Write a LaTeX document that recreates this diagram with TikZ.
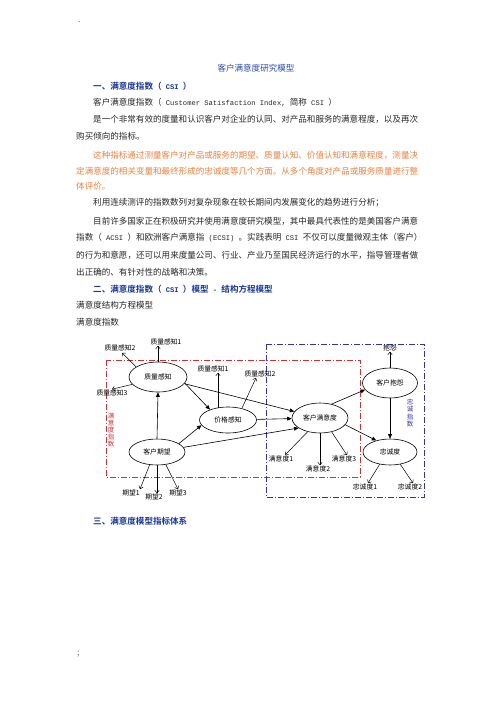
\documentclass[tikz,border=0pt]{standalone}
\usepackage{fontspec}
\usetikzlibrary{shapes.geometric,arrows.meta,calc}
\newfontfamily\cjk{Noto Sans CJK SC}[BoldFont={Noto Sans CJK SC Bold}]
\newfontfamily\lmono[Scale=0.8333]{Liberation Mono}
\newcommand\lm[1]{{\lmono#1}}
\definecolor{titleblue}{RGB}{45,75,165}
\definecolor{headblue}{RGB}{25,55,150}
\definecolor{orangetxt}{RGB}{238,128,60}
\definecolor{bodytxt}{RGB}{40,40,40}
\definecolor{redbox}{RGB}{205,50,50}
\definecolor{bluebox}{RGB}{50,50,175}
\begin{document}
\begin{tikzpicture}[x=1pt,y=-1pt,
 body/.style={anchor=west,inner sep=0pt,font=\cjk\fontsize{8.55}{10}\selectfont,text=bodytxt},
 headline/.style={body,font=\cjk\bfseries\fontsize{8.55}{10}\selectfont,text=headblue},
 orangeline/.style={body,text=orangetxt},
 lat/.style={ellipse,draw,line width=0.6pt,inner sep=0pt,font=\cjk\fontsize{6.8}{8}\selectfont},
 lbl/.style={inner sep=0.5pt,font=\cjk\fontsize{6.8}{8}\selectfont},
 ind/.style={-{Straight Barb[length=2.5pt,width=4.5pt]},line width=0.5pt},
 strc/.style={-{Triangle[length=4.5pt,width=3.8pt]},line width=0.6pt},
 dashdotbox/.style={line width=0.6pt,dash pattern=on 6pt off 2pt on 1pt off 2pt},
 vtext/.style={inner sep=0pt,align=center,font=\cjk\fontsize{6.5}{7.2}\selectfont}
]
\fill[white] (0,0) rectangle (496,702);
\useasboundingbox (0,0) rectangle (496,702);

\node[body,text=black!60] (dot) at (78,22) {.};
\node[inner sep=0pt,font=\cjk\fontsize{8.55}{10}\selectfont,text=titleblue] (title) at (256,68) {客户满意度研究模型};
\node[headline] (h1) at (93,86) {一、满意度指数（\lm{ \bfseries CSI }）};
\node[body] (t1) at (93,102) {客户满意度指数（\lm{ Customer Satisfaction Index, }简称\lm{ CSI }）};
\node[body] (t2) at (93,119) {是一个非常有效的度量和认识客户对企业的认同、对产品和服务的满意程度，以及再次};
\node[body] (t3) at (76,136) {购买倾向的指标。};
\node[orangeline] (o1) at (93,155) {这种指标通过测量客户对产品或服务的期望、质量认知、价值认知和满意程度，测量决};
\node[orangeline] (o2) at (76,171) {定满意度的相关变量和最终形成的忠诚度等几个方面。从多个角度对产品或服务质量进行整};
\node[orangeline] (o3) at (76,186) {体评价。};
\node[body] (t4) at (93,203) {利用连续测评的指数数列对复杂现象在较长期间内发展变化的趋势进行分析；};
\node[body] (t5) at (93,221) {目前许多国家正在积极研究并使用满意度研究模型，其中最具代表性的是美国客户满意};
\node[body] (t6) at (76,238) {指数（\lm{ ACSI }）和欧洲客户满意指\lm{ (ECSI) }。实践表明\lm{ CSI }不仅可以度量微观主体（客户）};
\node[body] (t7) at (76,255) {的行为和意愿，还可以用来度量公司、行业、产业乃至国民经济运行的水平，指导管理者做};
\node[body] (t8) at (76,272) {出正确的、有针对性的战略和决策。};
\node[headline] (h2) at (93,289) {二、满意度指数（\lm{ \bfseries CSI }）模型\lm{ \bfseries - }结构方程模型};
\node[body] (t9) at (76,305) {满意度结构方程模型};
\node[body] (t10) at (76,322) {满意度指数};
\node[headline] (h3) at (93,521) {三、满意度模型指标体系};
\node[body,text=black!60] (semi) at (77,654) {;};

% boxes
\draw[dashdotbox,redbox] (106,360) rectangle (360,477);
\draw[dashdotbox,bluebox] (266,344) rectangle (424,497);
\node[vtext,text=redbox] (redlabel) at (111,430) {满\\意\\度\\指\\数};
\node[vtext,text=bluebox] (bluelabel) at (410,413) {忠\\诚\\指\\数};

% latent variables
\node[lat,minimum width=58pt,minimum height=30pt] (zl) at (158,377) {质量感知};
\node[lat,minimum width=56pt,minimum height=26pt] (qw) at (157,452) {客户期望};
\node[lat,minimum width=57pt,minimum height=26pt] (jg) at (228,420) {价格感知};
\node[lat,minimum width=56pt,minimum height=30pt] (my) at (320,418) {客户满意度};
\node[lat,minimum width=55pt,minimum height=30pt] (by) at (390,383) {客户抱怨};
\node[lat,minimum width=54pt,minimum height=26pt] (zc) at (390,452) {忠诚度};

% indicators
\node[lbl] (l11) at (166,342) {质量感知1};
\node[lbl] (l12) at (120,348) {质量感知2};
\node[lbl] (l13) at (112,393) {质量感知3};
\node[lbl] (p1) at (213,369) {质量感知1};
\node[lbl] (p2) at (260,374) {质量感知2};
\node[lbl] (bl) at (390,348) {抱怨};
\node[lbl] (s1) at (281,459) {满意度1};
\node[lbl] (s2) at (318,469) {满意度2};
\node[lbl] (s3) at (344,459) {满意度3};
\node[lbl] (c1) at (365,487) {忠诚度1};
\node[lbl] (c2) at (410,487) {忠诚度2};
\node[lbl] (e1) at (131,493) {期望1};
\node[lbl] (e2) at (154,497) {期望2};
\node[lbl] (e3) at (178,493) {期望3};

% measurement arrows
\draw[ind] (zl.north) -- (zl.north |- l11.south);
\draw[ind] (zl.155) -- ($(l12.south)+(2,1)$);
\draw[ind] (zl.196) -- (l13.north);
\draw[ind] ($(jg.north)+(-10,1)$) -- ($(p1.south)+(5,0)$);
\draw[ind] (jg.40) -- ($(p2.south)+(-4,0)$);
\draw[ind] (by.north) -- (by.north |- bl.south);
\draw[ind] (my.228) -- ($(s1.north)+(4,0)$);
\draw[ind] (my.south) -- (my.south |- s2.north);
\draw[ind] (my.-50) -- ($(s3.north)+(3,0)$);
\draw[ind] (zc.230) -- ($(c1.north)+(3,0)$);
\draw[ind] (zc.-50) -- ($(c2.north)+(3,0)$);
\draw[ind] (qw.240) -- ($(e1.north)+(9,0)$);
\draw[ind] (qw.south) -- (qw.south |- e2.north);
\draw[ind] (qw.-55) -- (e3.north);

% structural arrows
\draw[strc] (qw.north) -- (zl.south);
\draw[strc] (qw.21) -- (jg.191);
\draw[strc] (zl.-13) -- (jg.150);
\draw[strc] (zl) -- (my);
\draw[strc] (qw.10) -- (my.205);
\draw[strc] (jg) -- (my);
\draw[strc] (my.50) -- (by.195);
\draw[strc] (my.-15) -- (zc.140);
\draw[strc] (by.south) -- (zc.north);
\end{tikzpicture}
\end{document}
